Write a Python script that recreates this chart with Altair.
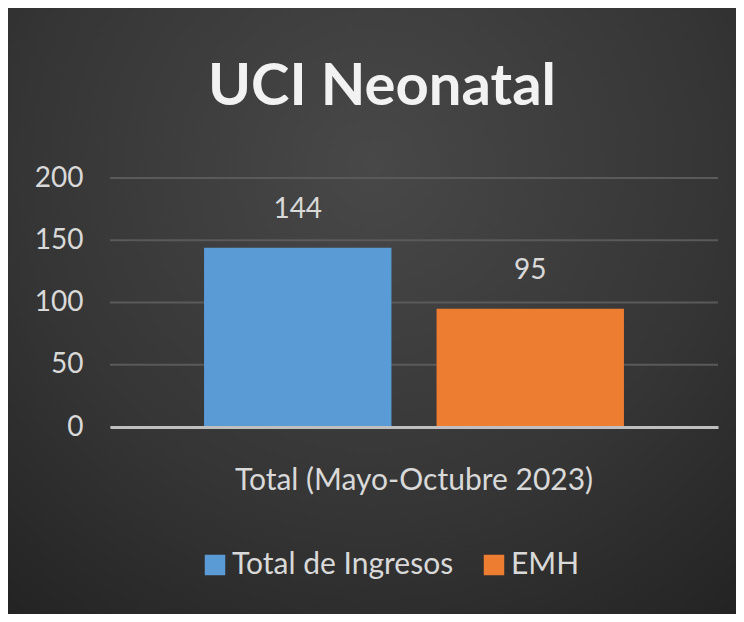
import altair as alt
import pandas as pd

# ---- data ----
categories = ["Total (Mayo-Octubre 2023)"]
series = ["Total de Ingresos", "EMH"]
values = [144, 95]
y_ticks = [0, 50, 100, 150, 200]
title_text = "UCI Neonatal"

colors = ["#5b9bd5", "#ed7d31"]

df = pd.DataFrame({
    "categoria": [categories[0]] * len(series),
    "serie": series,
    "valor": values,
})
grid_df = pd.DataFrame({"valor": y_ticks})

FONT = "Lato"
LABEL = "#d9d9d9"

W, H = 608, 249
PAD = {"left": 102, "top": 170, "right": 18, "bottom": 187}

bg_gradient = {
    "gradient": "radial",
    "x1": 0.5, "y1": 0.3, "r1": 0,
    "x2": 0.5, "y2": 0.3, "r2": 0.8,
    "stops": [
        {"offset": 0, "color": "#484848"},
        {"offset": 0.6, "color": "#353535"},
        {"offset": 1, "color": "#232323"},
    ],
}

background = alt.Chart(pd.DataFrame({"k": [0]})).mark_rect(
    fill=bg_gradient, clip=False
).encode(
    x=alt.value(-PAD["left"]),
    x2=alt.value(W + PAD["right"]),
    y=alt.value(-PAD["top"]),
    y2=alt.value(H + PAD["bottom"]),
)

y_axis = alt.Axis(
    title=None, values=y_ticks, ticks=False, domain=False, grid=False,
    labelFont=FONT, labelFontSize=28, labelColor=LABEL,
    labelPadding=27, zindex=1,
)
y_scale = alt.Scale(domain=[0, 200], nice=False)

grid = alt.Chart(grid_df).mark_rule(color="#5a5a5a", strokeWidth=2).encode(
    y=alt.Y("valor:Q", scale=y_scale, axis=y_axis)
)

base = alt.Chart(df).encode(
    x=alt.X(
        "categoria:N",
        scale=alt.Scale(paddingInner=0, paddingOuter=0.224),
        axis=alt.Axis(
            title=None, labelAngle=0, ticks=False, grid=False,
            domain=True, domainColor="#bfbfbf", domainWidth=3,
            labelFont=FONT, labelFontSize=30, labelColor=LABEL,
            labelPadding=38, labelLimit=600, zindex=1,
        ),
    ),
    xOffset=alt.XOffset(
        "serie:N", sort=series,
        scale=alt.Scale(paddingInner=0.194, paddingOuter=0),
    ),
    y=alt.Y("valor:Q", scale=y_scale, axis=y_axis),
)

bars = base.mark_bar().encode(
    color=alt.Color(
        "serie:N", sort=series,
        scale=alt.Scale(domain=series, range=colors),
        legend=alt.Legend(
            title=None, orient="none", direction="horizontal",
            legendX=90, legendY=372, padding=0,
            symbolType="square", symbolSize=420, symbolStrokeWidth=0,
            symbolOpacity=1,
            labelFont=FONT, labelFontSize=30, labelColor=LABEL,
            labelOffset=2, columnPadding=25, labelLimit=600,
        ),
    )
)

labels = base.mark_text(
    dy=-30, baseline="alphabetic", font=FONT, fontSize=28, color=LABEL
).encode(text="valor:Q")

chart = alt.layer(background, grid, bars, labels).properties(
    width=W,
    height=H,
    padding=PAD,
    autosize=alt.AutoSizeParams(type="none"),
    background="#2e2e2e",
    title=alt.TitleParams(
        title_text, font=FONT, fontWeight="bold", fontSize=58,
        color="#f2f2f2", anchor="middle", frame="group", dx=-32,
        offset=-155, baseline="alphabetic",
    ),
).configure_view(stroke=None)

chart.save("out.html", embed_options={"renderer": "svg", "actions": False})
